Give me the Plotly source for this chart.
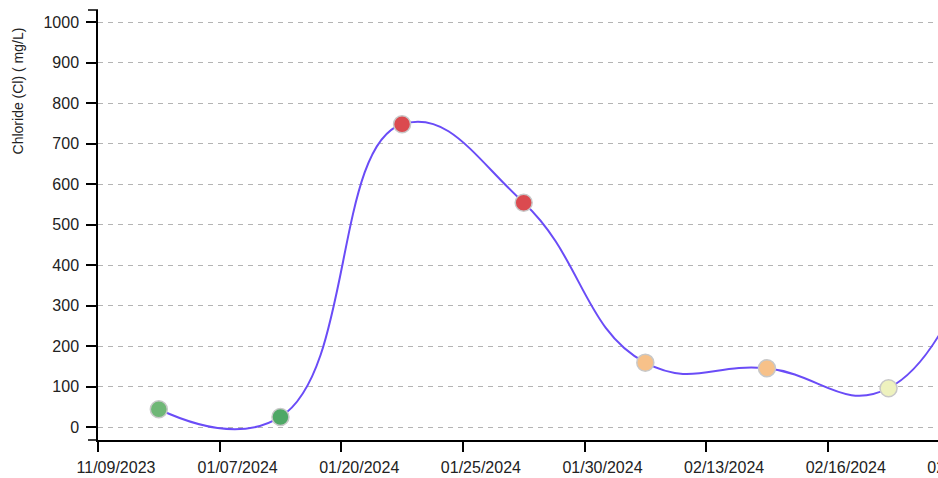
import plotly.graph_objects as go

# ---- data ----
tick_labels = ["11/09/2023", "01/07/2024", "01/20/2024", "01/25/2024",
               "01/30/2024", "02/13/2024", "02/16/2024", "02/20/2024"]
chloride = [44, 25, 748, 554, 159, 145, 96, 700]
marker_colors = ["#6fb776", "#4fa866", "#db4a4f", "#db4a4f",
                 "#f7c189", "#f7c189", "#eef2be", "#eef2be"]
y_ticks = [0, 100, 200, 300, 400, 500, 600, 700, 800, 900, 1000]

n = len(chloride)
x_pos = [i + 0.5 for i in range(n)]
x_ticks = list(range(n))

# page body keeps its default 8px top margin; left/right margins are removed below
W, H = 1080, 470
ML, MR, MT, MB = 98, 9, 2, 35
PW = W - ML - MR
PH = H - MT - MB

fig = go.Figure()
fig.add_trace(go.Scatter(
    x=x_pos, y=chloride, mode="lines+markers",
    line=dict(color="#6a4cf7", width=2, shape="spline", smoothing=1.3),
    marker=dict(size=17, color=marker_colors, line=dict(color="#c8c8c8", width=1.5)),
    hoverinfo="y", showlegend=False,
))

axis_font = dict(family="Liberation Sans, Arial, sans-serif", size=16, color="#222")

fig.update_layout(
    width=W, height=H, autosize=False,
    margin=dict(l=ML, r=MR, t=MT, b=MB, pad=0),
    paper_bgcolor="white", plot_bgcolor="white",
    xaxis=dict(
        range=[0, n], tickmode="array", tickvals=x_ticks, ticktext=tick_labels,
        showgrid=False, zeroline=False, showline=True, linecolor="black", linewidth=1.5,
        ticks="outside", ticklen=10, tickwidth=1.5, tickcolor="black",
        tickfont=axis_font, ticklabelshift=18, ticklabelstandoff=2, fixedrange=True,
    ),
    yaxis=dict(
        range=[-32, 1030], tickmode="array", tickvals=y_ticks,
        showgrid=True, gridcolor="#b4b4b4", gridwidth=1, griddash="5px,5px",
        zeroline=False, showline=True, linecolor="black", linewidth=1.5,
        ticks="outside", ticklen=10, tickwidth=1.5, tickcolor="black",
        tickfont=axis_font, ticklabelstandoff=4, fixedrange=True,
    ),
    annotations=[dict(
        text="Chloride (Cl) ( mg/L)", textangle=-90, showarrow=False,
        xref="paper", yref="paper", x=(18 - ML) / PW, y=(H - MB - 84) / PH,
        xanchor="center", yanchor="middle",
        font=dict(family="Liberation Sans, Arial, sans-serif", size=14, color="#222"),
    )],
    shapes=[
        # d3-style outer ticks at the top and bottom of the y axis
        dict(type="line", xref="paper", yref="paper", x0=-10 / PW, x1=0, y0=1, y1=1,
             line=dict(color="black", width=1.5)),
        dict(type="line", xref="paper", yref="paper", x0=-10 / PW, x1=0, y0=0, y1=0,
             line=dict(color="black", width=1.5)),
    ],
)

# The chart is wider than the window and is cut at its right edge, like the reference.
post = (
    "document.body.style.marginLeft='0';"
    "document.body.style.marginRight='0';"
)

fig.write_html("out.html", config={"displayModeBar": False}, post_script=post)
